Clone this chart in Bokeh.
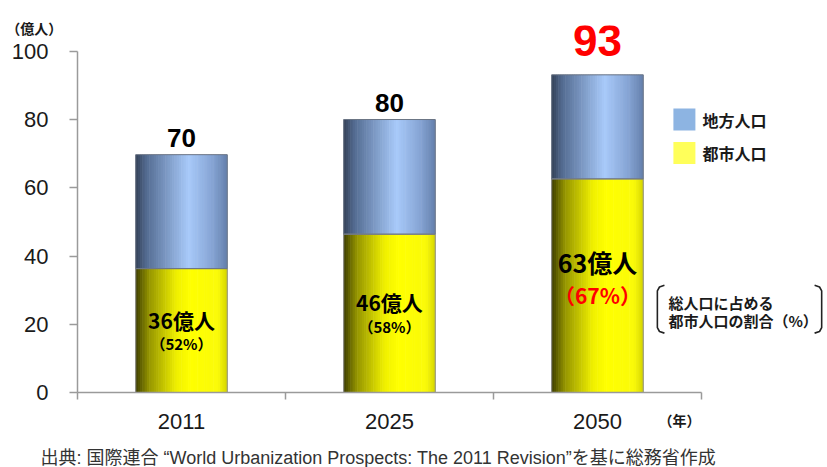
from bokeh.plotting import figure
from bokeh.models import Range1d, FixedTicker, Label, ColumnDataSource
from bokeh.embed import file_html
from bokeh.resources import INLINE
from bokeh.core.properties import value

# ---------------- data ----------------
years = ["2011", "2025", "2050"]
urban = [36.3, 46.4, 62.6]        # 都市人口（億人）
rural = [33.4, 33.6, 30.5]        # 地方人口（億人）
urban_share = [52, 58, 67]        # 総人口に占める都市人口の割合（%）
highlight = [False, False, True]
y_ticks = [0, 20, 40, 60, 80, 100]
series = ["地方人口", "都市人口"]
y_unit = "（億人）"
x_unit = "（年）"
note_lines = ["総人口に占める", "都市人口の割合（%）"]
source_text = "出典: 国際連合 “World Urbanization Prospects: The 2011 Revision”を基に総務省作成"

# ---------------- style ----------------
JP = value("Noto Sans CJK JP")
NUM = value("Liberation Sans")
MIXED = "'Liberation Sans', 'Noto Sans CJK JP'"
BLUE_STOPS = [(0.0, (50, 64, 86)), (0.12, (84, 108, 146)), (0.58, (168, 202, 250)),
              (0.85, (132, 162, 210)), (1.0, (100, 128, 172))]
YEL_STOPS = [(0.0, (62, 62, 0)), (0.15, (150, 150, 0)), (0.45, (240, 240, 0)),
             (0.6, (255, 255, 0)), (0.9, (250, 250, 10)), (1.0, (215, 215, 0))]
LEG_COLORS = ["#8db4e2", "#ffff5a"]


def grad(stops, t):
    for (t0, c0), (t1, c1) in zip(stops[:-1], stops[1:]):
        if t0 <= t <= t1:
            f = (t - t0) / (t1 - t0)
            c = [round(a + (b - a) * f) for a, b in zip(c0, c1)]
            return "#%02x%02x%02x" % tuple(c)
    return "#%02x%02x%02x" % stops[-1][1]


totals = [u + r for u, r in zip(urban, rural)]
xi = list(range(len(years)))

TOP = 25                      # top border (px)
PX_PER_UNIT = 3.415
ZERO_Y = 392.3                # page y of value 0
p = figure(width=827, height=467, output_backend="svg", toolbar_location=None,
           x_range=Range1d(-0.5, 3.106), y_range=Range1d(0, (ZERO_Y - TOP) / PX_PER_UNIT),
           min_border_left=77, min_border_right=0, min_border_top=TOP, min_border_bottom=75)
p.outline_line_color = None
p.xgrid.visible = False
p.ygrid.visible = False

# ---------------- gradient bars ----------------
BW = 0.44
N = 40
sx, sb, st, sc = [], [], [], []
for i, (u, r) in enumerate(zip(urban, rural)):
    for k in range(N):
        t = (k + 0.5) / N
        xc = i - BW / 2 + t * BW
        sx += [xc, xc]
        sb += [0, u]
        st += [u, u + r]
        sc += [grad(YEL_STOPS, t), grad(BLUE_STOPS, t)]
p.vbar(x="x", bottom="b", top="t", width=BW / N * 1.25, fill_color="c", line_color=None,
       source=ColumnDataSource(dict(x=sx, b=sb, t=st, c=sc)))
p.vbar(x=xi, bottom=0, top=urban, width=BW, fill_color=None, line_color="#8a8a8a", line_width=1)
p.vbar(x=xi, bottom=urban, top=totals, width=BW, fill_color=None, line_color="#6a7484", line_width=1)

# ---------------- total labels ----------------
tot_src = ColumnDataSource(dict(
    x=xi, y=totals, text=[f"{round(t)}" for t in totals],
    size=["44px" if h else "26px" for h in highlight],
    color=["#ff0000" if h else "#000000" for h in highlight],
    off=[-34 if h else -17 for h in highlight]))
p.text(x="x", y="y", text="text", source=tot_src, text_align="center", text_baseline="alphabetic",
       text_font=NUM, text_font_style="bold", text_font_size="size", text_color="color", y_offset="off")

# ---------------- inside labels ----------------
mid = [u / 2 for u in urban]
in_src = ColumnDataSource(dict(
    x=xi, y=mid,
    name=[f"{round(u)}億人" for u in urban],
    pct=[f"（{s}%）" for s in urban_share],
    nsize=["25px" if h else "21px" for h in highlight],
    psize=["21px" if h else "15px" for h in highlight],
    pcol=["#ff0000" if h else "#000000" for h in highlight],
    noff=[-24 if h else -11 for h in highlight],
    poff=[9 if h else 13 for h in highlight]))
p.text(x="x", y="y", text="name", source=in_src, text_align="center", text_baseline="middle",
       text_font=JP, text_font_style="bold", text_font_size="nsize", text_color="#000000", y_offset="noff")
p.text(x="x", y="y", text="pct", source=in_src, text_align="center", text_baseline="middle",
       text_font=JP, text_font_style="bold", text_font_size="psize", text_color="pcol", y_offset="poff")

# ---------------- legend ----------------
LX, LY, LSTEP = 2.418, 80.0, 9.8
ly = [LY - k * LSTEP for k in range(len(series))]
p.rect(x=[LX] * len(series), y=ly, width=22, height=22, width_units="screen", height_units="screen",
       fill_color=LEG_COLORS, line_color=None)
p.text(x=[LX + 0.087] * len(series), y=ly, text=series, text_align="left", text_baseline="middle",
       text_font=JP, text_font_style="bold", text_font_size="16px", text_color="#1a1a1a")

# ---------------- bracket note ----------------
NX, NY1, NY2 = 2.341, 26.4, 21.2
p.text(x=[NX, NX], y=[NY1, NY2], text=note_lines, text_align="left", text_baseline="middle",
       text_font=JP, text_font_style="bold", text_font_size="15px", text_color="#1a1a1a")
BL, BR, BT, BB, HK, CR = 2.288, 3.078, 31.4, 17.4, 0.034, 1.6
p.line(x=[BL + HK, BL + HK * 0.3, BL, BL, BL + HK * 0.3, BL + HK],
       y=[BT, BT - CR * 0.3, BT - CR, BB + CR, BB + CR * 0.3, BB], line_color="#222222", line_width=1.6)
p.line(x=[BR - HK, BR - HK * 0.3, BR, BR, BR - HK * 0.3, BR - HK],
       y=[BT, BT - CR * 0.3, BT - CR, BB + CR, BB + CR * 0.3, BB], line_color="#222222", line_width=1.6)

# ---------------- axes ----------------
xa = p.xaxis[0]
xa.bounds = (-0.5, 2.5)
xa.ticker = FixedTicker(ticks=xi, minor_ticks=[-0.5, 0.5, 1.5, 2.5])
xa.major_label_overrides = {i: y for i, y in zip(xi, years)}
xa.major_tick_line_color = None
xa.major_tick_out = 0
xa.major_tick_in = 0
xa.minor_tick_out = 7
xa.minor_tick_in = 0
xa.minor_tick_line_color = "#9a9a9a"
xa.minor_tick_line_width = 1.5
xa.axis_line_color = "#9a9a9a"
xa.axis_line_width = 1.5
xa.major_label_standoff = 14
xa.major_label_text_font = "Liberation Sans"
xa.major_label_text_font_size = "22px"
xa.major_label_text_color = "#1a1a1a"

ya = p.yaxis[0]
ya.bounds = (0, 100)
ya.ticker = FixedTicker(ticks=y_ticks, minor_ticks=[])
ya.major_tick_out = 8
ya.major_tick_in = 0
ya.minor_tick_out = 0
ya.major_tick_line_color = "#9a9a9a"
ya.major_tick_line_width = 1.5
ya.axis_line_color = "#9a9a9a"
ya.axis_line_width = 1.5
ya.major_label_standoff = 21
ya.major_label_text_font = "Liberation Sans"
ya.major_label_text_font_size = "22px"
ya.major_label_text_color = "#1a1a1a"

# ---------------- outside texts (in side panels so they are not clipped) ----------------
p.add_layout(Label(x=-0.842, y=106.9, text=y_unit, text_align="left", text_baseline="middle",
                   text_font="Noto Sans CJK JP", text_font_style="bold", text_font_size="14px",
                   text_color="#1a1a1a"), "above")
p.add_layout(Label(x=2.293, y=-8.4, text=x_unit, text_align="left", text_baseline="middle",
                   text_font=MIXED, text_font_style="bold", text_font_size="14px",
                   text_color="#1a1a1a"), "below")
p.add_layout(Label(x=-0.678, y=-19.2, text=source_text, text_align="left", text_baseline="middle",
                   text_font=MIXED, text_font_size="18px", text_color="#333333"), "below")

open("out.html", "w").write(file_html(p, INLINE))
